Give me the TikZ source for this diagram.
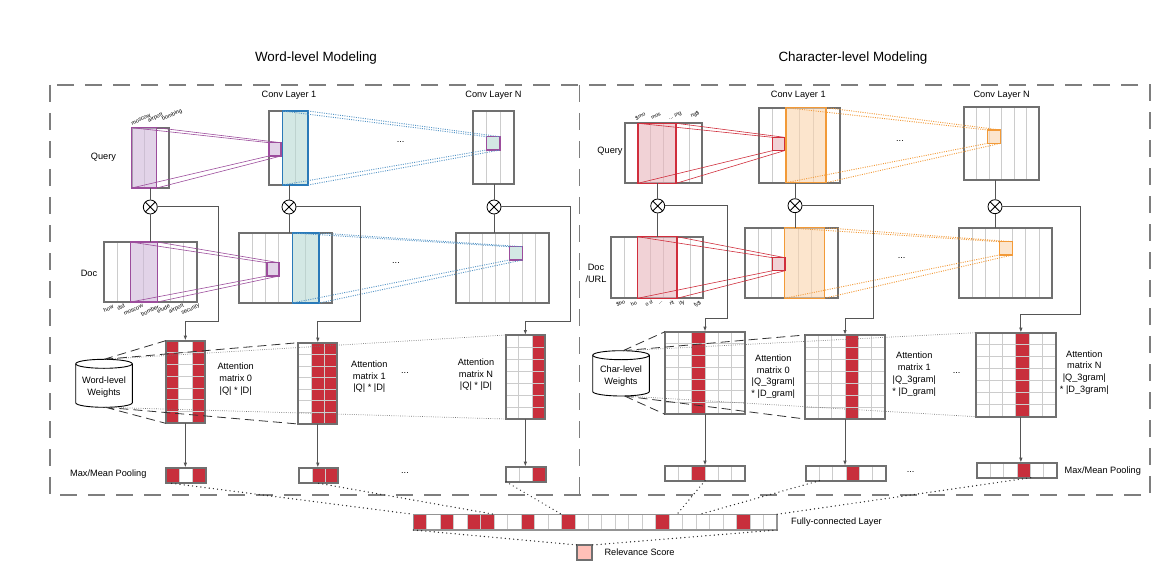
\documentclass[tikz,border=0pt]{standalone}
\usepackage{fontspec}
\setmainfont{Liberation Sans}
\usetikzlibrary{positioning,calc,fit,arrows.meta}

\definecolor{cframe}{HTML}{707070}
\definecolor{cgrid}{HTML}{CCCCCC}
\definecolor{cpurp}{HTML}{9C4D9C}
\definecolor{cpurpf}{HTML}{CFB7D9}
\definecolor{cteal}{HTML}{2A7AB8}
\definecolor{ctealf}{HTML}{B6D9D2}
\definecolor{cred}{HTML}{D02E3C}
\definecolor{credf}{HTML}{E9B4BB}
\definecolor{corange}{HTML}{F29A38}
\definecolor{corangef}{HTML}{FAD4AD}
\definecolor{ccell}{HTML}{C82F3C}
\definecolor{crel}{HTML}{FFC0B8}
\definecolor{cconn}{HTML}{555555}

\tikzset{
  cellbox/.style={fill=white, inner sep=0pt, outer sep=0pt},
  framed/.style={draw=cframe, line width=2pt},
  colline/.style={draw=cgrid, line width=0.8pt},
  shadebox/.style={inner sep=0pt, outer sep=0pt, fill opacity=0.6, line width=1.5pt},
  purpshade/.style={shadebox, fill=cpurpf, draw=cpurp},
  tealshade/.style={shadebox, fill=ctealf, draw=cteal},
  redshade/.style={shadebox, fill=credf, draw=cred},
  orshade/.style={shadebox, fill=corangef, draw=corange},
  redcell/.style={fill=ccell},
  proj/.style={line width=0.6pt},
  convdots/.style={line width=0.9pt, dash pattern=on 1pt off 1.3pt},
  conn/.style={draw=cconn, line width=1pt},
  flow/.style={conn, -{Latex[length=5pt,width=3.5pt]}},
  otimes/.style={circle, draw, fill=white, line width=0.8pt, minimum size=14pt, inner sep=0pt,
    path picture={\draw[line width=0.8pt] (path picture bounding box.north west) -- (path picture bounding box.south east)
      (path picture bounding box.south west) -- (path picture bounding box.north east);}},
  lbl/.style={font=\fontsize{9.2}{11.8}\selectfont, align=center, inner sep=0pt},
  ttl/.style={font=\fontsize{13.4}{16}\selectfont, inner sep=0pt},
  word/.style={font=\fontsize{5.6}{6.5}\selectfont, rotate=25, inner sep=0pt},
  gram/.style={font=\fontsize{5.3}{6.3}\selectfont, rotate=25, inner sep=0pt},
  outer/.style={draw=cframe!90, line width=1.2pt, dash pattern=on 17pt off 11pt},
  longdash/.style={draw=black!80, line width=0.8pt, dash pattern=on 9pt off 5pt},
  finedots/.style={draw=black!55, line width=0.7pt, dash pattern=on 0.7pt off 1.5pt},
  bigdots/.style={draw=black!85, line width=1.4pt, line cap=round, dash pattern=on 0pt off 4.2pt},
  cyl/.style={draw, fill=white, line width=0.9pt},
  relbox/.style={fill=crel, draw=cframe, line width=2pt, inner sep=0pt, outer sep=0pt},
}

% column / row lines inside a box node
\newcommand{\gridlines}[3]{%
  \pgfmathtruncatemacro{\gcols}{#2-1}%
  \ifnum\gcols>0
    \foreach \i in {1,...,\gcols}
      \draw[colline] ($(#1.north west)!\i/#2!(#1.north east)$) -- ($(#1.south west)!\i/#2!(#1.south east)$);
  \fi
  \pgfmathtruncatemacro{\grows}{#3-1}%
  \ifnum\grows>0
    \foreach \j in {1,...,\grows}
      \draw[colline] ($(#1.north west)!\j/#3!(#1.south west)$) -- ($(#1.north east)!\j/#3!(#1.south east)$);
  \fi}
% one red column of a box node
\newcommand{\fillcol}[3]{%
  \pgfmathsetmacro{\fa}{#3/#2}\pgfmathsetmacro{\fb}{(#3+1)/#2}%
  \fill[redcell] ($(#1.north west)!\fa!(#1.north east)$) rectangle ($(#1.south west)!\fb!(#1.south east)$);}
\newcommand{\outlinebox}[1]{\draw[framed] (#1.north west) rectangle (#1.south east);}

\begin{document}
\begin{tikzpicture}[x=1pt, y=-1pt]
\useasboundingbox (0,0) rectangle (1172,572);

% frames
\draw[outer] (50,85) rectangle (1150,495);
\draw[outer] (579.5,85) -- (579.5,495);
\node[ttl] (wtitle) at (316,58) {Word-level Modeling};
\node[ttl] (ctitle) at (853,58) {Character-level Modeling};

%%%%%%%% Word-level %%%%%%%%
% Query
\node[cellbox, fit={(131.7,127.7) (169,188)}] (wq) {};
\gridlines{wq}{3}{1}
\outlinebox{wq}
\node[purpshade, fit={(131.7,127.7) (156.7,188)}] (wqs) {};
\node[lbl] (wql) at (103.5,157) {Query};
\node[word] (wqa) at (141,119.5) {moscow};
\node[word] (wqb) at (155.5,117.5) {airport};
\node[word] (wqc) at (172,115) {bombing};

% Doc
\node[cellbox, fit={(104,242) (197,302)}] (wd) {};
\gridlines{wd}{7}{1}
\outlinebox{wd}
\node[purpshade, fit={(130.6,242) (157.3,302)}] (wds) {};
\node[lbl] (wdl) at (89,273) {Doc};
\node[word] (wda) at (108.5,308.5) {how};
\node[word] (wdb) at (121,307) {did};
\node[word] (wdc) at (133.5,310) {moscow};
\node[word] (wdd) at (150,310.5) {bomber};
\node[word] (wde) at (163.5,308.5) {elude};
\node[word] (wdf) at (176.5,308.5) {airport};
\node[word] (wdg) at (190.5,309.5) {security};

% Conv layer 1
\node[lbl] (w1l) at (289,95) {Conv Layer 1};
\node[cellbox, fit={(269,111) (308,185)}] (w1q) {};
\gridlines{w1q}{3}{1}
\outlinebox{w1q}
\node[tealshade, fit={(282.7,111) (308,185)}] (w1qs) {};
\node[cellbox, fit={(239,233) (332,303)}] (w1d) {};
\gridlines{w1d}{7}{1}
\outlinebox{w1d}
\node[tealshade, fit={(292.3,233) (319,303)}] (w1ds) {};
\node[purpshade, line width=1.2pt, fit={(269,142.7) (281,156)}] (w1qp) {};
\node[purpshade, line width=1.2pt, fit={(267,262.7) (279,276)}] (w1dp) {};
\draw[proj, cpurp] (wqs.north west) -- (w1qp.north west) (wqs.north east) -- (w1qp.north east)
  (wqs.south west) -- (w1qp.south west) (wqs.south east) -- (w1qp.south east);
\draw[proj, cpurp] (wds.north west) -- (w1dp.north west) (wds.north east) -- (w1dp.north east)
  (wds.south west) -- (w1dp.south west) (wds.south east) -- (w1dp.south east);

% Conv layer N
\node[lbl] (wNl) at (493.5,95) {Conv Layer N};
\node[cellbox, fit={(473,111) (514,184)}] (wNq) {};
\gridlines{wNq}{3}{1}
\outlinebox{wNq}
\node[cellbox, fit={(456,233) (549,303)}] (wNd) {};
\gridlines{wNd}{7}{1}
\outlinebox{wNd}
\node[tealshade, draw=cpurp, line width=1.2pt, fit={(486.7,136.7) (500,150)}] (wNqp) {};
\node[tealshade, draw=cpurp, line width=1.2pt, fit={(509.3,246.7) (522.3,260)}] (wNdp) {};
\draw[convdots, cteal!80] (w1qs.north west) -- (wNqp.north west) (w1qs.north east) -- (wNqp.north east)
  (w1qs.south west) -- (wNqp.south west) (w1qs.south east) -- (wNqp.south east);
\draw[convdots, cteal!80] (w1ds.north west) -- (wNdp.north west) (w1ds.north east) -- (wNdp.north east)
  (w1ds.south west) -- (wNdp.south west) (w1ds.south east) -- (wNdp.south east);
\node[lbl] (wdt1) at (400.7,141.7) {...};
\node[lbl] (wdt2) at (396,263) {...};

% Attention matrices
\node[cellbox, fit={(165.7,340.7) (205,423.3)}] (wa0) {};
\fillcol{wa0}{3}{0}
\fillcol{wa0}{3}{2}
\gridlines{wa0}{3}{7}
\outlinebox{wa0}
\node[cellbox, fit={(298.3,342.7) (337.3,424)}] (wa1) {};
\fillcol{wa1}{3}{1}
\fillcol{wa1}{3}{2}
\gridlines{wa1}{3}{7}
\outlinebox{wa1}
\node[cellbox, fit={(505.7,335) (545,419)}] (waN) {};
\fillcol{waN}{3}{2}
\gridlines{waN}{3}{7}
\outlinebox{waN}
\node[lbl] (wa0l) at (235.7,379) {Attention\\matrix 0\\|Q| * |D|};
\node[lbl] (wa1l) at (369.3,376.7) {Attention\\matrix 1\\|Q| * |D|};
\node[lbl] (waNl) at (476,374.7) {Attention\\matrix N\\|Q| * |D|};
\node[lbl] (wdt3) at (405,373) {...};

% Merge
\node[otimes] (wo0) at (150.3,207) {};
\node[otimes] (wo1) at (289,207) {};
\node[otimes] (woN) at (494,207) {};
\draw[conn] (wo0 |- wq.south) -- (wo0) -- (wo0 |- wd.north);
\draw[conn] (wo1 |- w1q.south) -- (wo1) -- (wo1 |- w1d.north);
\draw[conn] (woN |- wNq.south) -- (woN) -- (woN |- wNd.north);
\coordinate (wb0) at (218,321);
\coordinate (wb1) at (360,321);
\coordinate (wbN) at (570.7,321);
\draw[flow] (wo0.east) -| (wb0) -| (wa0.north);
\draw[flow] (wo1.east) -| (wb1) -| (wa1.north);
\draw[flow] (woN.east) -| (wbN) -| (waN.north);

% Weights
\draw[cyl] (75.7,363.8) -- (75.7,402.8) arc[start angle=180, end angle=360, x radius=28.3pt, y radius=4.5pt]
  -- (132.3,363.8) arc[start angle=0, end angle=180, x radius=28.3pt, y radius=4.5pt] -- cycle;
\draw[cyl, fill=none] (75.7,363.8) arc[start angle=180, end angle=360, x radius=28.3pt, y radius=4.5pt];
\node[lbl] (wcyl) at (104,387) {Word-level\\Weights};
\coordinate (wct) at (104,359.3);
\coordinate (wcb) at (105.5,407.3);
\draw[longdash] (wct) -- (wa0.north west) (wct) -- (wa1.north west)
  (wcb) -- (wa0.south west) (wcb) -- (wa1.south west);
\draw[finedots] (wct) -- (waN.north west) (wcb) -- (waN.south west);

% Pooling
\node[cellbox, fit={(165.7,467.7) (205.7,483.3)}] (wp0) {};
\fillcol{wp0}{3}{0}
\fillcol{wp0}{3}{2}
\gridlines{wp0}{3}{1}
\outlinebox{wp0}
\node[cellbox, fit={(299,467.7) (338.3,483.3)}] (wp1) {};
\fillcol{wp1}{3}{1}
\fillcol{wp1}{3}{2}
\gridlines{wp1}{3}{1}
\outlinebox{wp1}
\node[cellbox, fit={(506,466.7) (546,481.7)}] (wpN) {};
\fillcol{wpN}{3}{2}
\gridlines{wpN}{3}{1}
\outlinebox{wpN}
\draw[flow] (wa0.south) -- (wa0.south |- wp0.north);
\draw[flow] (wa1.south) -- (wa1.south |- wp1.north);
\draw[flow] (waN.south) -- (waN.south |- wpN.north);
\node[lbl] (wpl) at (108.3,474.3) {Max/Mean Pooling};
\node[lbl] (wdt4) at (405,472.7) {...};

%%%%%%%% Character-level %%%%%%%%
% Query
\node[cellbox, fit={(625,123.3) (701.7,183.3)}] (cq) {};
\gridlines{cq}{6}{1}
\outlinebox{cq}
\node[redshade, fit={(637.8,123.3) (676.2,183.3)}] (cqs) {};
\node[lbl] (cql) at (610,151) {Query};
\node[gram] (cqa) at (640.3,116.3) {\$mo};
\node[gram] (cqb) at (656,116.3) {mos};
\node[gram] (cqc) at (675,115.8) {... ing};
\node[gram] (cqd) at (695,114.5) {ng\$};

% Doc / URL
\node[cellbox, fit={(611,236.7) (703.3,298.3)}] (cd) {};
\gridlines{cd}{7}{1}
\outlinebox{cd}
\node[redshade, fit={(637.4,236.7) (677,298.3)}] (cds) {};
\node[lbl] (cdl) at (596,273.7) {Doc\\/URL};
\node[gram] (cda) at (620.7,303.3) {\$ho};
\node[gram] (cdb) at (633.7,303.7) {ho};
\node[gram] (cdc) at (648.8,303.3) {o d};
\node[gram] (cdd) at (660.7,303) {...};
\node[gram] (cde) at (671.7,303) {rit};
\node[gram] (cdf) at (682,303) {ity};
\node[gram] (cdg) at (697.5,304) {ty\$};

% Conv layer 1
\node[lbl] (c1l) at (798.3,95) {Conv Layer 1};
\node[cellbox, fit={(759,107.7) (840,182.7)}] (c1q) {};
\gridlines{c1q}{6}{1}
\outlinebox{c1q}
\node[orshade, fit={(785.8,107.7) (826,182.7)}] (c1qs) {};
\node[cellbox, fit={(745,227.7) (837.7,298.3)}] (c1d) {};
\gridlines{c1d}{7}{1}
\outlinebox{c1d}
\node[orshade, fit={(784.6,227.7) (824.3,298.3)}] (c1ds) {};
\node[redshade, line width=1.2pt, fit={(772.3,137.3) (784.3,150.7)}] (c1qp) {};
\node[redshade, line width=1.2pt, fit={(772.7,257.7) (785,270.7)}] (c1dp) {};
\draw[proj, cred] (cqs.north west) -- (c1qp.north west) (cqs.north east) -- (c1qp.north east)
  (cqs.south west) -- (c1qp.south west) (cqs.south east) -- (c1qp.south east);
\draw[proj, cred] (cds.north west) -- (c1dp.north west) (cds.north east) -- (c1dp.north east)
  (cds.south west) -- (c1dp.south west) (cds.south east) -- (c1dp.south east);

% Conv layer N
\node[lbl] (cNl) at (1001.7,95) {Conv Layer N};
\node[cellbox, fit={(964.3,106.7) (1039.3,180)}] (cNq) {};
\gridlines{cNq}{6}{1}
\outlinebox{cNq}
\node[cellbox, fit={(959,227.7) (1052.3,298.3)}] (cNd) {};
\gridlines{cNd}{7}{1}
\outlinebox{cNd}
\node[orshade, line width=1.2pt, fit={(987.7,130) (1000.7,143.3)}] (cNqp) {};
\node[orshade, line width=1.2pt, fit={(999.3,241.7) (1012.3,255)}] (cNdp) {};
\draw[convdots, corange] (c1qs.north west) -- (cNqp.north west) (c1qs.north east) -- (cNqp.north east)
  (c1qs.south west) -- (cNqp.south west) (c1qs.south east) -- (cNqp.south east);
\draw[convdots, corange] (c1ds.north west) -- (cNdp.north west) (c1ds.north east) -- (cNdp.north east)
  (c1ds.south west) -- (cNdp.south west) (c1ds.south east) -- (cNdp.south east);
\node[lbl] (cdt1) at (900,141) {...};
\node[lbl] (cdt2) at (901.7,258.3) {...};

% Attention matrices
\node[cellbox, fit={(665,331.7) (745,414.3)}] (ca0) {};
\fillcol{ca0}{6}{2}
\gridlines{ca0}{6}{7}
\outlinebox{ca0}
\node[cellbox, fit={(805,335) (885,419)}] (ca1) {};
\fillcol{ca1}{6}{3}
\gridlines{ca1}{6}{7}
\outlinebox{ca1}
\node[cellbox, fit={(976,332.7) (1055.7,416.7)}] (caN) {};
\fillcol{caN}{6}{3}
\gridlines{caN}{6}{7}
\outlinebox{caN}
\node[lbl] (ca0l) at (773.3,376.7) {Attention\\matrix 0\\|Q\_3gram|\\* |D\_gram|};
\node[lbl] (ca1l) at (914.3,374) {Attention\\matrix 1\\|Q\_3gram|\\* |D\_gram|};
\node[lbl] (caNl) at (1084.3,372.5) {Attention\\matrix N\\|Q\_3gram|\\* |D\_3gram|};
\node[lbl] (cdt3) at (956.7,373.3) {...};

% Merge
\node[otimes] (co0) at (657.7,206) {};
\node[otimes] (co1) at (795,205.7) {};
\node[otimes] (coN) at (995,206.7) {};
\draw[conn] (co0 |- cq.south) -- (co0) -- (co0 |- cd.north);
\draw[conn] (co1 |- c1q.south) -- (co1) -- (co1 |- c1d.north);
\draw[conn] (coN |- cNq.south) -- (coN) -- (coN |- cNd.north);
\coordinate (cb0) at (727.3,318.3);
\coordinate (cb1) at (873.3,318.3);
\coordinate (cbN) at (1080,314.3);
\draw[flow] (co0.east) -| (cb0) -| (ca0.north);
\draw[flow] (co1.east) -| (cb1) -| (ca1.north);
\draw[flow] (coN.east) -| (cbN) -| ([xshift=5pt]caN.north);

% Weights
\draw[cyl] (592.7,355.2) -- (592.7,391.5) arc[start angle=180, end angle=360, x radius=28.3pt, y radius=4.5pt]
  -- (649.3,355.2) arc[start angle=0, end angle=180, x radius=28.3pt, y radius=4.5pt] -- cycle;
\draw[cyl, fill=none] (592.7,355.2) arc[start angle=180, end angle=360, x radius=28.3pt, y radius=4.5pt];
\node[lbl] (ccyl) at (621,376.5) {Char-level\\Weights};
\coordinate (cct) at (623,350.7);
\coordinate (ccb) at (624.5,396);
\draw[longdash] (cct) -- (ca0.north west) (cct) -- (ca1.north west)
  (ccb) -- (ca0.south west) (ccb) -- (ca1.south west);
\draw[finedots] (cct) -- (caN.north west) (ccb) -- (caN.south west);

% Pooling
\node[cellbox, fit={(665,465.7) (745,480.7)}] (cp0) {};
\fillcol{cp0}{6}{2}
\gridlines{cp0}{6}{1}
\outlinebox{cp0}
\node[cellbox, fit={(806,465.7) (886,480.7)}] (cp1) {};
\fillcol{cp1}{6}{3}
\gridlines{cp1}{6}{1}
\outlinebox{cp1}
\node[cellbox, fit={(977.3,462.7) (1056.7,477.7)}] (cpN) {};
\fillcol{cpN}{6}{3}
\gridlines{cpN}{6}{1}
\outlinebox{cpN}
\draw[flow] (ca0.south) -- (ca0.south |- cp0.north);
\draw[flow] (ca1.south) -- (ca1.south |- cp1.north);
\draw[flow] ([xshift=5pt]caN.south) -- ([xshift=5pt]caN.south |- cpN.north);
\node[lbl] (cpl) at (1102.8,471) {Max/Mean Pooling};
\node[lbl] (cdt4) at (910.7,471.7) {...};

%%%%%%%% Output %%%%%%%%
\node[cellbox, fit={(413.3,514.3) (777,530)}] (fc) {};
\foreach \k in {0,2,4,5,8,11,18,24} {\fillcol{fc}{27}{\k}}
\gridlines{fc}{27}{1}
\draw[framed, draw=cframe!75, line width=1.6pt] (fc.north west) rectangle (fc.south east);
\node[lbl, anchor=west] (fcl) at (791,522) {Fully-connected Layer};
\node[relbox, fit={(577.3,545) (592.3,560)}] (rel) {};
\node[lbl, anchor=west] (rell) at (604.3,552.7) {Relevance Score};

\draw[bigdots] ([xshift=6pt]wp0.south west) -- (fc.north west);
\draw[bigdots] (wp1.south) -- ($(fc.north west)!6/27!(fc.north east)$);
\draw[bigdots] (wpN.south west) -- ($(fc.north west)!11/27!(fc.north east)$);
\draw[bigdots] (cp0.south) -- ($(fc.north west)!0.725!(fc.north east)$);
\draw[bigdots] ([xshift=13.3pt]cp1.south west) -- ($(fc.north west)!0.788!(fc.north east)$);
\draw[bigdots] ([xshift=-26pt]cpN.south east) -- (fc.north east);
\draw[bigdots] (fc.south west) -- (rel.north west) (fc.south east) -- (rel.north east);
\end{tikzpicture}
\end{document}
